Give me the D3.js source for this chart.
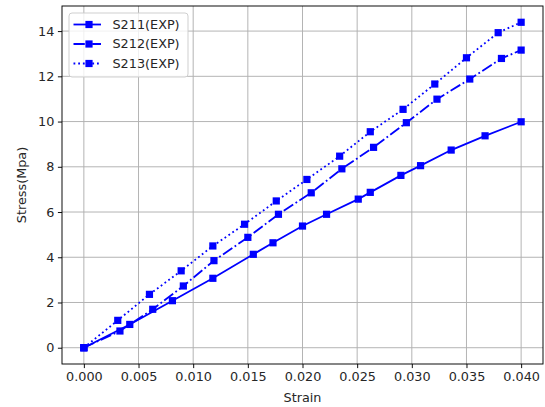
<!DOCTYPE html>
<html>
<head>
<meta charset="utf-8">
<script src="https://cdn.jsdelivr.net/npm/d3@7/dist/d3.min.js"></script>
<style>
  body { margin: 0; background: #fff; }
  svg { display: block; font-family: "DejaVu Sans", sans-serif; }
</style>
</head>
<body>
<div id="chart"></div>
<script>
// data
var seriesNames = ["S211(EXP)", "S212(EXP)", "S213(EXP)"];
var strainS211 = [0, 0.0042, 0.0081, 0.0118, 0.0155, 0.0173, 0.0200, 0.0222, 0.0251, 0.0262, 0.0290, 0.0308, 0.0336, 0.0367, 0.0400];
var stressS211 = [0, 1.03, 2.08, 3.07, 4.13, 4.64, 5.38, 5.90, 6.57, 6.87, 7.62, 8.05, 8.74, 9.37, 9.99];
var strainS212 = [0, 0.0033, 0.0063, 0.0091, 0.0119, 0.0150, 0.0178, 0.0208, 0.0236, 0.0265, 0.0295, 0.0323, 0.0353, 0.0382, 0.0400];
var stressS212 = [0, 0.74, 1.70, 2.73, 3.85, 4.88, 5.90, 6.85, 7.91, 8.86, 9.95, 10.99, 11.88, 12.79, 13.16];
var strainS213 = [0, 0.0031, 0.0060, 0.0089, 0.0118, 0.0147, 0.0176, 0.0204, 0.0234, 0.0262, 0.0292, 0.0321, 0.0350, 0.0379, 0.0400];
var stressS213 = [0, 1.21, 2.36, 3.40, 4.50, 5.46, 6.49, 7.44, 8.47, 9.55, 10.54, 11.66, 12.82, 13.93, 14.39];
var xTicks = [0, 0.005, 0.010, 0.015, 0.020, 0.025, 0.030, 0.035, 0.040];
var yTicks = [0, 2, 4, 6, 8, 10, 12, 14];

var W = 545, H = 407;
var margin = {top: 6, right: 2, bottom: 43, left: 62};
var width = W - margin.left - margin.right;
var height = H - margin.top - margin.bottom;
var fontSize = "12.8px";

var series = [
    {name: seriesNames[0], xs: strainS211, ys: stressS211, dash: null},
    {name: seriesNames[1], xs: strainS212, ys: stressS212, dash: "11.3,2.8,1.8,2.8"},
    {name: seriesNames[2], xs: strainS213, ys: stressS213, dash: "1.8,2.9"}
];

// matplotlib-like 5% margins
var allX = [].concat(strainS211, strainS212, strainS213);
var allY = [].concat(stressS211, stressS212, stressS213);
var xmin = d3.min(allX), xmax = d3.max(allX);
var ymin = d3.min(allY), ymax = d3.max(allY);
var xpad = (xmax - xmin) * 0.05, ypad = (ymax - ymin) * 0.05;

var x = d3.scaleLinear().domain([xmin - xpad, xmax + xpad]).range([0, width]);
var y = d3.scaleLinear().domain([ymin - ypad, ymax + ypad]).range([height, 0]);

var svg = d3.select("#chart").append("svg")
    .attr("width", W)
    .attr("height", H)
    .append("g")
    .attr("transform", "translate(" + margin.left + "," + margin.top + ")");

// grid
svg.append("g").selectAll("line").data(xTicks).enter().append("line")
    .attr("x1", function(d) { return x(d); })
    .attr("x2", function(d) { return x(d); })
    .attr("y1", 0).attr("y2", height)
    .attr("stroke", "#b0b0b0").attr("stroke-width", 0.95);
svg.append("g").selectAll("line").data(yTicks).enter().append("line")
    .attr("y1", function(d) { return y(d); })
    .attr("y2", function(d) { return y(d); })
    .attr("x1", 0).attr("x2", width)
    .attr("stroke", "#b0b0b0").attr("stroke-width", 0.95);

// series
var line = d3.line()
    .x(function(d) { return x(d[0]); })
    .y(function(d) { return y(d[1]); });

series.forEach(function(s) {
    var pts = d3.zip(s.xs, s.ys);
    var g = svg.append("g");
    g.append("path")
        .datum(pts)
        .attr("d", line)
        .attr("fill", "none")
        .attr("stroke", "#0000ff")
        .attr("stroke-width", 1.8)
        .attr("stroke-dasharray", s.dash);
    g.selectAll("rect").data(pts).enter().append("rect")
        .attr("x", function(d) { return x(d[0]) - 3.6; })
        .attr("y", function(d) { return y(d[1]) - 3.6; })
        .attr("width", 7.2).attr("height", 7.2)
        .attr("fill", "#0000ff");
});

// axes
var xAxis = d3.axisBottom(x).tickValues(xTicks).tickFormat(d3.format(".3f")).tickSizeOuter(0).tickSize(4.1).tickPadding(3.5);
var yAxis = d3.axisLeft(y).tickValues(yTicks).tickFormat(d3.format("d")).tickSizeOuter(0).tickSize(4.1).tickPadding(3.5);

var gx = svg.append("g")
    .attr("transform", "translate(0," + height + ")")
    .call(xAxis);
var gy = svg.append("g").call(yAxis);
[gx, gy].forEach(function(g) {
    g.select(".domain").remove();
    g.selectAll("line").attr("stroke", "#000").attr("stroke-width", 0.95);
    g.selectAll("text").attr("fill", "#262626").style("font-size", fontSize).style("font-family", "DejaVu Sans");
});

svg.append("rect")
    .attr("x", 0).attr("y", 0)
    .attr("width", width).attr("height", height)
    .attr("fill", "none")
    .attr("stroke", "#000")
    .attr("stroke-width", 0.95);

svg.append("text")
    .attr("x", width / 2)
    .attr("y", height + 38)
    .attr("text-anchor", "middle")
    .style("font-size", fontSize)
    .attr("fill", "#262626")
    .text("Strain");

svg.append("text")
    .attr("transform", "rotate(-90)")
    .attr("x", -height / 2)
    .attr("y", -36.5)
    .attr("text-anchor", "middle")
    .style("font-size", fontSize)
    .attr("fill", "#262626")
    .text("Stress(Mpa)");

// legend
var legend = svg.append("g").attr("transform", "translate(7,7)");
legend.append("rect")
    .attr("width", 119).attr("height", 64)
    .attr("rx", 3).attr("ry", 3)
    .attr("fill", "#fff").attr("fill-opacity", 0.8)
    .attr("stroke", "#cccccc").attr("stroke-width", 0.95);

series.forEach(function(s, i) {
    var ly = 11.5 + i * 19.5;
    var row = legend.append("g").attr("transform", "translate(0," + ly + ")");
    row.append("line")
        .attr("x1", 4.5).attr("x2", 32)
        .attr("y1", 0).attr("y2", 0)
        .attr("stroke", "#0000ff")
        .attr("stroke-width", 1.8)
        .attr("stroke-dasharray", s.dash);
    row.append("rect")
        .attr("x", 20 - 3.6).attr("y", -3.6)
        .attr("width", 7.2).attr("height", 7.2)
        .attr("fill", "#0000ff");
    row.append("text")
        .attr("x", 43.5).attr("y", 0)
        .attr("dy", "0.35em")
        .style("font-size", fontSize)
        .attr("fill", "#262626")
        .text(s.name);
});
</script>
</body>
</html>
